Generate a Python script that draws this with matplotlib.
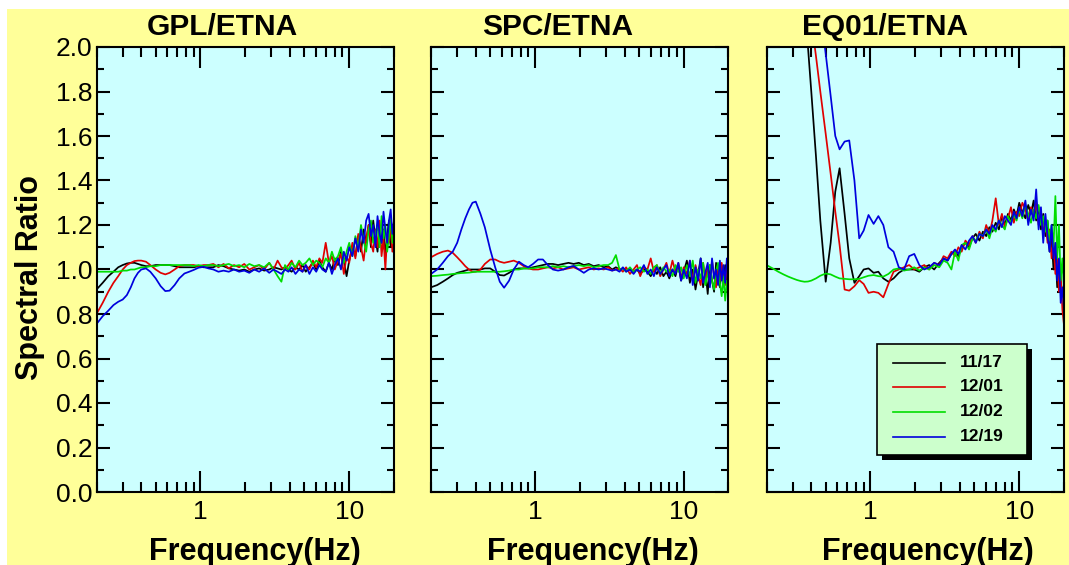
import matplotlib
matplotlib.use('Agg')
import matplotlib.pyplot as plt
from matplotlib.patches import Rectangle
from matplotlib.ticker import (FixedLocator, FixedFormatter, NullFormatter,
                               MultipleLocator, FormatStrFormatter, LogLocator)

plt.rcParams['font.family'] = ['Liberation Sans', 'DejaVu Sans']

# ---------------- data ----------------
FREQ = [0.20, 0.22, 0.24, 0.26, 0.28, 0.30, 0.32, 0.34, 0.36, 0.38,
        0.40, 0.43, 0.46, 0.50, 0.54, 0.58, 0.62, 0.67, 0.72, 0.78,
        0.84, 0.90, 0.97, 1.05, 1.13, 1.22, 1.32, 1.43, 1.55, 1.68,
        1.82, 1.97, 2.13, 2.30, 2.48, 2.68, 2.90, 3.10, 3.30, 3.50,
        3.70, 3.90, 4.10, 4.35, 4.60, 4.85, 5.10, 5.40, 5.70, 6.00,
        6.30, 6.60, 6.95, 7.30, 7.65, 8.00, 8.40, 8.80, 9.20, 9.60,
        10.0, 10.5, 11.0, 11.5, 12.0, 12.5, 13.0, 13.5, 14.0, 14.5,
        15.0, 15.5, 16.0, 16.5, 17.0, 17.5, 18.0, 18.5, 19.0, 19.5,
        20.0]

GPL_1117 = [0.91, 0.94, 0.97, 0.99, 1.01, 1.02, 1.027, 1.03, 1.03, 1.025,
            1.02, 1.015, 1.015, 1.02, 1.02, 1.02, 1.02, 1.015, 1.01, 1.01,
            1.01, 1.01, 1.015, 1.01, 1.01, 1.01, 1.02, 1.015, 1.005, 1.00,
            0.995, 1.00, 0.99, 1.00, 1.005, 0.995, 1.00, 1.01, 1.005, 1.00,
            1.01, 1.00, 0.99, 1.01, 1.00, 1.02, 0.99, 1.01, 1.03, 1.00,
            1.04, 1.01, 0.99, 1.03, 1.00, 1.05, 1.02, 1.08, 1.04, 0.97,
            1.04, 1.10, 1.06, 1.15, 1.08, 1.18, 1.12, 1.20, 1.10, 1.22,
            1.14, 1.08, 1.20, 1.12, 1.18, 1.06, 1.15, 1.22, 1.10, 1.18,
            1.15]
GPL_1201 = [0.80, 0.85, 0.90, 0.94, 0.97, 1.00, 1.02, 1.03, 1.038, 1.04,
            1.04, 1.035, 1.02, 1.00, 0.985, 0.978, 0.985, 1.00, 1.015, 1.02,
            1.02, 1.02, 1.015, 1.02, 1.02, 1.025, 1.01, 1.025, 1.005, 1.02,
            1.01, 1.025, 1.00, 1.01, 1.02, 1.00, 1.03, 1.00, 1.04, 1.01,
            1.00, 1.02, 1.04, 1.00, 1.03, 0.99, 1.02, 1.00, 1.04, 1.01,
            1.05, 1.03, 1.12, 1.03, 1.06, 1.00, 1.04, 1.07, 0.98, 1.06,
            1.03, 1.12, 1.05, 1.16, 1.10, 1.04, 1.14, 1.20, 1.12, 1.08,
            1.18, 1.10, 1.22, 1.06, 1.14, 1.00, 1.16, 1.12, 1.20, 1.08,
            1.12]
GPL_1202 = [0.99, 0.99, 0.99, 0.99, 0.99, 0.995, 0.995, 1.00, 1.00, 1.005,
            1.01, 1.01, 1.015, 1.015, 1.02, 1.02, 1.02, 1.02, 1.02, 1.02,
            1.02, 1.015, 1.02, 1.015, 1.02, 1.02, 1.015, 1.02, 1.025, 1.015,
            1.02, 1.01, 1.025, 1.015, 1.02, 1.01, 1.03, 1.00, 0.97, 0.945,
            1.02, 1.00, 1.03, 1.01, 1.04, 1.02, 1.03, 1.05, 1.02, 1.04,
            1.03, 1.01, 1.05, 1.03, 1.08, 1.04, 1.06, 1.10, 1.03, 1.08,
            1.12, 1.06, 1.15, 1.10, 1.20, 1.13, 1.08, 1.18, 1.22, 1.12,
            1.16, 1.20, 1.10, 1.24, 1.14, 1.20, 1.08, 1.15, 1.24, 1.12,
            1.20]
GPL_1219 = [0.755, 0.79, 0.815, 0.84, 0.855, 0.865, 0.885, 0.92, 0.96, 0.985,
            1.00, 1.005, 0.99, 0.96, 0.925, 0.903, 0.905, 0.93, 0.96, 0.982,
            0.99, 0.998, 1.008, 1.012, 1.005, 1.00, 0.99, 0.995, 0.99, 1.00,
            0.99, 0.995, 0.985, 1.00, 0.99, 1.005, 0.985, 1.00, 0.99, 0.98,
            1.00, 0.99, 1.01, 0.98, 1.00, 0.99, 1.02, 0.98, 1.01, 0.99,
            1.02, 1.00, 0.99, 1.03, 0.98, 1.02, 1.05, 1.00, 1.08, 1.04,
            1.10, 1.06, 1.14, 1.08, 1.18, 1.12, 1.22, 1.25, 1.15, 1.20,
            1.10, 1.24, 1.16, 1.12, 1.26, 1.18, 1.12, 1.22, 1.27, 1.16,
            1.22]

SPC_1117 = [0.92, 0.93, 0.945, 0.96, 0.975, 0.985, 0.99, 0.995, 1.00, 1.00,
            1.00, 1.00, 1.005, 1.005, 0.99, 0.975, 0.973, 0.985, 1.00, 1.005,
            1.005, 1.005, 1.01, 1.015, 1.02, 1.025, 1.025, 1.02, 1.025, 1.03,
            1.025, 1.03, 1.02, 1.025, 1.015, 1.02, 1.01, 1.015, 1.00, 1.01,
            1.00, 1.005, 0.995, 1.00, 0.99, 1.00, 0.98, 1.00, 0.99, 0.97,
            1.00, 0.98, 1.01, 0.97, 0.99, 0.96, 1.00, 0.97, 1.02, 0.95,
            0.99, 1.04, 0.94, 1.00, 0.91, 0.98, 1.05, 0.92, 0.99, 0.89,
            1.02, 0.95, 0.90, 1.03, 0.96, 0.92, 1.00, 0.94, 1.02, 0.93,
            0.97]
SPC_1201 = [1.055, 1.07, 1.08, 1.085, 1.075, 1.055, 1.035, 1.015, 1.00, 0.99,
            0.99, 1.00, 1.025, 1.045, 1.045, 1.035, 1.03, 1.035, 1.04, 1.03,
            1.015, 1.005, 1.00, 1.00, 1.005, 1.01, 1.005, 1.01, 1.00, 1.005,
            1.01, 1.00, 1.005, 1.01, 1.00, 1.005, 1.00, 1.01, 0.995, 1.00,
            1.005, 0.99, 1.01, 0.98, 1.00, 1.02, 0.97, 1.01, 1.00, 1.05,
            0.99, 1.02, 0.97, 1.00, 1.03, 0.98, 1.04, 0.99, 1.03, 0.96,
            1.01, 0.98, 1.04, 0.95, 1.02, 0.97, 0.93, 1.03, 0.96, 1.01,
            0.94, 1.04, 0.97, 0.92, 1.00, 0.95, 1.03, 0.97, 0.93, 1.01,
            0.96]
SPC_1202 = [0.97, 0.972, 0.975, 0.977, 0.98, 0.982, 0.984, 0.985, 0.986, 0.988,
            0.99, 0.99, 0.99, 0.99, 0.99, 0.99, 0.992, 0.995, 1.00, 1.00,
            1.005, 1.005, 1.005, 1.01, 1.01, 1.01, 1.015, 1.01, 1.015, 1.01,
            1.015, 1.02, 1.015, 1.02, 1.01, 1.015, 1.02, 1.02, 1.03, 1.065,
            1.00, 1.005, 0.99, 1.01, 0.99, 1.00, 1.01, 0.99, 1.00, 0.98,
            1.01, 1.02, 0.98, 1.01, 0.99, 1.00, 0.97, 1.02, 0.99, 1.01,
            0.96, 1.02, 0.97, 1.04, 0.94, 1.00, 0.96, 1.03, 0.93, 0.98,
            1.02, 0.95, 0.91, 0.99, 1.03, 0.94, 0.88, 0.97, 0.86, 0.95,
            0.90]
SPC_1219 = [0.98, 1.00, 1.03, 1.06, 1.08, 1.12, 1.18, 1.23, 1.27, 1.30,
            1.305, 1.25, 1.19, 1.09, 1.01, 0.945, 0.918, 0.95, 1.00, 1.035,
            1.02, 1.01, 1.025, 1.045, 1.045, 1.02, 1.00, 0.995, 1.00, 1.01,
            1.016, 1.00, 0.985, 1.00, 1.005, 1.00, 1.005, 1.00, 0.995, 1.00,
            0.99, 1.01, 0.99, 1.00, 0.98, 1.00, 0.99, 1.02, 0.98, 1.00,
            0.97, 1.01, 0.98, 1.00, 1.02, 0.97, 1.00, 0.98, 1.03, 0.95,
            1.00, 0.96, 1.04, 0.93, 1.01, 0.95, 1.05, 0.94, 0.99, 1.03,
            0.92, 1.05, 0.96, 1.00, 0.93, 1.04, 0.95, 1.02, 0.94, 1.05,
            0.98]

EQ01_1117 = [3.6, 3.5, 3.4, 3.2, 3.0, 2.8, 2.6, 2.4, 2.2, 2.0,
             1.80, 1.51, 1.22, 0.945, 1.12, 1.35, 1.455, 1.25, 1.05, 0.94,
             0.97, 1.00, 1.005, 0.985, 0.99, 0.96, 0.945, 0.96, 0.985, 1.00,
             1.00, 1.00, 0.99, 1.01, 1.02, 1.00, 1.03, 1.05, 1.04, 1.07,
             1.08, 1.06, 1.10, 1.12, 1.10, 1.14, 1.16, 1.13, 1.17, 1.15,
             1.19, 1.17, 1.21, 1.18, 1.24, 1.20, 1.25, 1.22, 1.27, 1.24,
             1.30, 1.26, 1.23, 1.29, 1.25, 1.31, 1.22, 1.28, 1.18, 1.25,
             1.15, 1.22, 1.08, 1.14, 1.00, 1.08, 0.92, 1.02, 0.95, 0.88,
             0.92]
EQ01_1201 = [4.0, 3.8, 3.6, 3.4, 3.2, 3.0, 2.8, 2.6, 2.4, 2.25,
             2.12, 1.96, 1.80, 1.61, 1.43, 1.26, 1.11, 0.91, 0.905, 0.925,
             0.952, 0.935, 0.895, 0.90, 0.895, 0.875, 0.935, 0.99, 1.00, 1.01,
             1.02, 1.00, 1.01, 1.02, 1.00, 1.03, 1.02, 1.06, 1.05, 1.08,
             1.06, 1.10, 1.08, 1.13, 1.11, 1.15, 1.12, 1.17, 1.14, 1.20,
             1.16, 1.22, 1.32, 1.20, 1.25, 1.19, 1.23, 1.28, 1.21, 1.26,
             1.24, 1.30, 1.27, 1.22, 1.28, 1.24, 1.30, 1.20, 1.26, 1.16,
             1.22, 1.12, 1.18, 1.05, 1.12, 0.98, 1.05, 0.90, 0.98, 0.82,
             0.75]
EQ01_1202 = [1.02, 1.005, 0.99, 0.978, 0.968, 0.96, 0.953, 0.948, 0.945, 0.946,
             0.95, 0.96, 0.972, 0.982, 0.978, 0.968, 0.96, 0.958, 0.956, 0.956,
             0.958, 0.965, 0.972, 0.975, 0.97, 0.968, 0.98, 1.00, 1.005, 0.995,
             1.00, 1.01, 0.995, 1.01, 1.00, 1.02, 1.01, 1.04, 1.03, 1.00,
             1.08, 1.04, 1.11, 1.12, 1.09, 1.14, 1.13, 1.16, 1.15, 1.18,
             1.14, 1.19, 1.17, 1.22, 1.20, 1.18, 1.24, 1.21, 1.25, 1.22,
             1.27, 1.23, 1.29, 1.25, 1.21, 1.27, 1.23, 1.29, 1.20, 1.24,
             1.17, 1.22, 1.13, 1.20, 1.10, 1.33, 1.05, 1.20, 0.95, 1.05,
             0.90]
EQ01_1219 = [4.5, 4.4, 4.3, 4.2, 4.0, 3.8, 3.6, 3.4, 3.2, 3.0,
             2.7, 2.4, 2.17, 1.97, 1.78, 1.60, 1.54, 1.575, 1.58, 1.40,
             1.14, 1.175, 1.245, 1.205, 1.24, 1.20, 1.10, 1.08, 1.01, 1.00,
             1.06, 1.07, 1.02, 1.00, 1.01, 1.03, 1.02, 1.05, 1.04, 1.07,
             1.09, 1.07, 1.11, 1.09, 1.13, 1.15, 1.12, 1.16, 1.15, 1.18,
             1.16, 1.20, 1.18, 1.22, 1.19, 1.24, 1.22, 1.20, 1.26, 1.23,
             1.28, 1.24, 1.31, 1.20, 1.27, 1.22, 1.36, 1.18, 1.28, 1.12,
             1.25, 1.15, 1.08, 1.20, 1.05, 1.12, 0.95, 1.05, 0.85, 0.92,
             0.82]

TITLES = ["GPL/ETNA", "SPC/ETNA", "EQ01/ETNA"]
PANEL_SERIES = [[GPL_1117, GPL_1201, GPL_1202, GPL_1219],
                [SPC_1117, SPC_1201, SPC_1202, SPC_1219],
                [EQ01_1117, EQ01_1201, EQ01_1202, EQ01_1219]]
LABELS = ["11/17", "12/01", "12/02", "12/19"]
COLORS = ["#000000", "#E00000", "#00DD00", "#0000DD"]
XTICKS = [1, 10]
XTICKLABELS = ["1", "10"]
XLABEL = "Frequency(Hz)"
YLABEL = "Spectral Ratio"

# ---------------- layout ----------------
W, H = 1069, 565
fig = plt.figure(figsize=(W / 100, H / 100), dpi=100)
fig.patch.set_facecolor("white")
fig.add_artist(Rectangle((7 / W, 0), 1.0, (H - 9) / H, transform=fig.transFigure,
                         facecolor="#FFFF99", edgecolor="none", zorder=-10))

lefts_px = [96.5, 431.0, 766.5]
axw_px = 297.5
top_px, bot_px = 47.0, 492.0
title_cx = [222, 558, 885]
xlabel_cx = [255, 593, 928]

for i, (title, series) in enumerate(zip(TITLES, PANEL_SERIES)):
    ax = fig.add_axes([lefts_px[i] / W, (H - bot_px) / H, axw_px / W,
                       (bot_px - top_px) / H])
    ax.set_facecolor("#CCFFFF")
    for vals, col in zip(series, COLORS):
        ax.plot(FREQ, vals, color=col, lw=1.25)
    ax.set_xscale("log")
    ax.set_xlim(0.2, 20)
    ax.set_ylim(0, 2)
    ax.xaxis.set_major_locator(FixedLocator(XTICKS))
    ax.xaxis.set_major_formatter(FixedFormatter(XTICKLABELS))
    ax.xaxis.set_minor_locator(LogLocator(base=10, subs=[2, 3, 4, 5, 6, 7, 8, 9]))
    ax.xaxis.set_minor_formatter(NullFormatter())
    ax.yaxis.set_major_locator(MultipleLocator(0.2))
    ax.yaxis.set_minor_locator(MultipleLocator(0.1))
    ax.yaxis.set_major_formatter(FormatStrFormatter("%.1f"))
    ax.tick_params(which="both", direction="in", top=True, right=True,
                   width=1.5, color="black")
    ax.tick_params(axis="x", which="major", length=15, labelsize=19, pad=6)
    ax.tick_params(axis="x", which="minor", length=7.5)
    ax.tick_params(axis="y", which="major", length=9.5, labelsize=19, pad=3)
    ax.tick_params(axis="y", which="minor", length=5)
    if i > 0:
        ax.tick_params(axis="y", labelleft=False)
    for sp in ax.spines.values():
        sp.set_linewidth(1.5)

    fig.text(title_cx[i] / W, (H - 35) / H, title, ha="center", va="baseline",
             fontsize=21.5, fontweight="bold")
    fig.text(xlabel_cx[i] / W, (H - 560) / H, XLABEL, ha="center", va="baseline",
             fontsize=22, fontweight="bold")

    if i == 2:
        bx, by, bw, bh = 0.3714, 0.0831, 0.5042, 0.2495
        ax.add_patch(Rectangle((bx + 0.0168, by - 0.0112), bw, bh,
                               transform=ax.transAxes, facecolor="black",
                               edgecolor="none", zorder=5))
        ax.add_patch(Rectangle((bx, by), bw, bh, transform=ax.transAxes,
                               facecolor="#CCFFCC", edgecolor="black", lw=1.2,
                               zorder=6))
        rows_y = [0.2899, 0.2360, 0.1800, 0.1236]
        for lab, col, yy in zip(LABELS, COLORS, rows_y):
            ax.plot([0.425, 0.600], [yy, yy], transform=ax.transAxes,
                    color=col, lw=1.2, zorder=7)
            ax.text(0.650, yy, lab, transform=ax.transAxes, ha="left",
                    va="center", fontsize=12.5, fontweight="bold", zorder=7)

fig.text(30 / W, (H - 278) / H, YLABEL, rotation=90, ha="center", va="center",
         fontsize=22, fontweight="bold")

fig.savefig("out.png", dpi=100, facecolor=fig.get_facecolor())
